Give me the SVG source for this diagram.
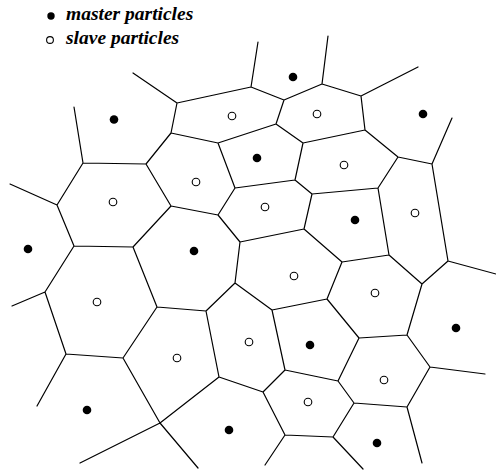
<svg xmlns="http://www.w3.org/2000/svg" width="496" height="470" viewBox="0 0 496 470">
<style>
.e{stroke:#000;stroke-width:1.2;fill:none;stroke-linecap:round;stroke-linejoin:round}
.m{fill:#000}
.s{fill:#fff;stroke:#000;stroke-width:1.1}
.t{font-family:"Liberation Serif","Times New Roman",serif;font-weight:bold;font-style:italic;font-size:19.5px;fill:#000}
</style>
<rect width="496" height="470" fill="#fff"/>
<g id="legend">
<circle class="m" cx="51" cy="16" r="3.7"/>
<text class="t" x="66" y="19.5">master particles</text>
<circle class="s" cx="50" cy="40" r="3.4"/>
<text class="t" x="66" y="43.5">slave particles</text>
</g>
<g id="connectors">
<path class="e" d="M133,73L177,103L251,87L258,42M251,87L284,100L322,84L328,36M322,84L361,96L418,67M361,96L365,130L398,157L432,164L452,118M432,164L448,261L496,274M177,103L171,133L218,143L276,124L284,100M276,124L303,143L365,130M303,143L295,180L312,194L378,188L398,157M295,180L235,188L218,143M235,188L218,215L171,206L146,164L171,133M146,164L83,163L74,107M83,163L57,205L10,184M171,206L133,247L74,246L57,205M218,215L240,242L304,229L312,194M378,188L389,255L342,262L304,229M240,242L235,283L272,310L327,299L342,262M389,255L422,284L448,261M422,284L407,335L359,338L327,299M272,310L285,370L338,381L359,338M285,370L263,392L219,377M263,392L285,435L333,437L354,403L338,381M354,403L407,407L430,367L407,335M430,367L485,374M407,407L422,463M333,437L363,469M285,435L265,465M74,246L45,292L12,306M45,292L66,354L123,358L157,307L133,247M157,307L206,311L235,283M206,311L219,377L160,423L123,358M160,423L80,463M160,423L198,468M66,354L37,406"/>
</g>
<g id="masters">
<circle class="m" cx="114" cy="119.5" r="4.3"/>
<circle class="m" cx="293" cy="77" r="4.3"/>
<circle class="m" cx="423" cy="114" r="4.3"/>
<circle class="m" cx="257" cy="158" r="4.3"/>
<circle class="m" cx="355" cy="220" r="4.3"/>
<circle class="m" cx="28" cy="249" r="4.3"/>
<circle class="m" cx="194" cy="251" r="4.3"/>
<circle class="m" cx="87" cy="410" r="4.3"/>
<circle class="m" cx="229" cy="430" r="4.3"/>
<circle class="m" cx="456" cy="328" r="4.3"/>
<circle class="m" cx="310" cy="345" r="4.3"/>
<circle class="m" cx="377" cy="443" r="4.3"/>
</g>
<g id="slaves">
<circle class="s" cx="232" cy="116" r="3.8"/>
<circle class="s" cx="196" cy="182" r="3.8"/>
<circle class="s" cx="113" cy="202" r="3.8"/>
<circle class="s" cx="317" cy="114" r="3.8"/>
<circle class="s" cx="344" cy="165" r="3.8"/>
<circle class="s" cx="265" cy="207" r="3.8"/>
<circle class="s" cx="415" cy="213" r="3.8"/>
<circle class="s" cx="97" cy="302" r="3.8"/>
<circle class="s" cx="177" cy="358" r="3.8"/>
<circle class="s" cx="294" cy="276" r="3.8"/>
<circle class="s" cx="375" cy="293" r="3.8"/>
<circle class="s" cx="249" cy="342" r="3.8"/>
<circle class="s" cx="384" cy="380" r="3.8"/>
<circle class="s" cx="308" cy="402" r="3.8"/>
</g>
</svg>
